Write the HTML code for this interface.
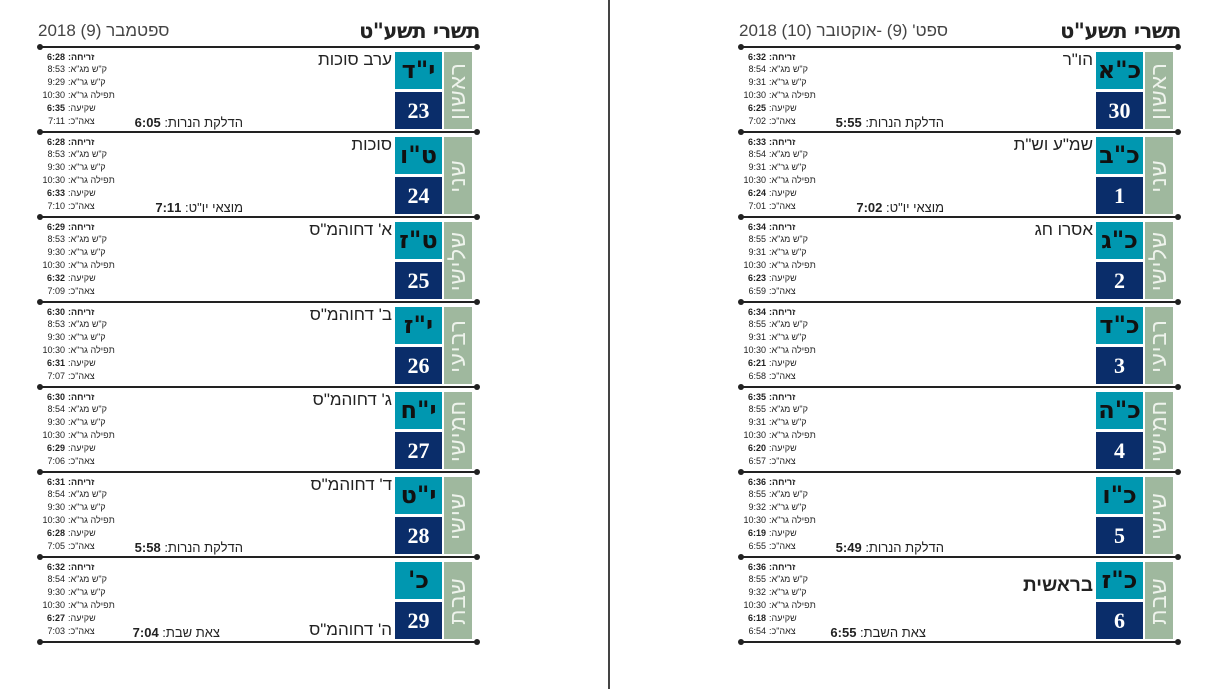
<!DOCTYPE html>
<html><head><meta charset="utf-8">
<style>
*{margin:0;padding:0;box-sizing:border-box}
body{width:1217px;height:689px;background:#fff;position:relative;overflow:hidden;font-family:"Liberation Sans","Noto Sans CJK JP",sans-serif;color:#222}
.pg{position:absolute;top:0;left:0;width:600px;height:689px}
.divider{position:absolute;left:608px;top:0;width:2px;height:689px;background:#444}
.hl{position:absolute;left:40px;width:437px;height:2px;background:#222}
.hl:before,.hl:after{content:"";position:absolute;top:-2px;width:6px;height:6px;border-radius:50%;background:#222}
.hl:before{left:-3px}.hl:after{right:-3px}
.t1{position:absolute;right:120px;top:19px;font-size:21px;font-weight:bold;direction:rtl;font-family:"DejaVu Sans","Liberation Sans",sans-serif;letter-spacing:-0.5px}
.t2{position:absolute;left:38px;top:21px;font-size:17px;color:#444;direction:rtl;font-family:"Liberation Sans","Noto Sans CJK JP",sans-serif}
.row{position:absolute;left:0;width:600px;height:85px}
.g{position:absolute;left:444px;top:5px;width:28px;height:77px;background:#9fb89e}
.g span{position:absolute;left:50%;top:50%;transform:translate(-50%,-50%) rotate(-90deg);color:#eef3ec;font-size:22px;white-space:nowrap;direction:rtl;font-family:"Liberation Sans","Noto Sans CJK JP",sans-serif;letter-spacing:1px}
.tl{position:absolute;left:395px;top:5px;width:47px;height:37px;background:#0097b0;text-align:center;line-height:37px;font-size:24px;font-weight:bold;color:#111;direction:rtl;font-family:"DejaVu Sans","Liberation Sans",sans-serif}
.nv{position:absolute;left:395px;top:45px;width:47px;height:37px;background:#0a2d6a;text-align:center;line-height:38px;font-size:22px;font-weight:bold;color:#fff;font-family:"Liberation Serif",serif}
.hol{position:absolute;right:208px;top:3px;font-size:17px;direction:rtl;white-space:nowrap;color:#222}
.note{position:absolute;right:357px;top:68px;font-size:13px;direction:rtl;white-space:nowrap}
.tm{position:absolute;left:30px;width:100px;height:12px;font-size:9px;line-height:12px}
.tm .v{position:absolute;left:0;width:35px;text-align:right}
.tm .l{position:absolute;left:38px;direction:rtl;white-space:nowrap}
.b{font-weight:bold}
</style></head><body>
<div class="divider"></div>

<!-- LEFT PAGE -->
<div class="pg" style="left:0">
<div class="t1">תשרי תשע"ט</div>
<div class="t2">ספטמבר (9) 2018</div>
<div class="hl" style="top:46px"></div><div class="hl" style="top:131px"></div><div class="hl" style="top:216px"></div><div class="hl" style="top:301px"></div><div class="hl" style="top:386px"></div><div class="hl" style="top:471px"></div><div class="hl" style="top:556px"></div><div class="hl" style="top:641px"></div>

<div class="row" style="top:47px"><div class="g"><span>ראשון</span></div><div class="tl">י"ד</div><div class="nv">23</div><div class="hol">ערב סוכות</div><div class="note">הדלקת הנרות: <b>6:05</b></div>
<div class="tm" style="top:4px"><span class="v b">6:28</span><span class="l b">זריחה:</span></div><div class="tm" style="top:16px"><span class="v">8:53</span><span class="l">ק"ש מג"א:</span></div><div class="tm" style="top:29px"><span class="v">9:29</span><span class="l">ק"ש גר"א:</span></div><div class="tm" style="top:42px"><span class="v">10:30</span><span class="l">תפילה גר"א:</span></div><div class="tm" style="top:55px"><span class="v b">6:35</span><span class="l">שקיעה:</span></div><div class="tm" style="top:68px"><span class="v">7:11</span><span class="l">צאה"כ:</span></div></div>

<div class="row" style="top:132px"><div class="g"><span>שני</span></div><div class="tl">ט"ו</div><div class="nv">24</div><div class="hol">סוכות</div><div class="note">מוצאי יו"ט: <b>7:11</b></div>
<div class="tm" style="top:4px"><span class="v b">6:28</span><span class="l b">זריחה:</span></div><div class="tm" style="top:16px"><span class="v">8:53</span><span class="l">ק"ש מג"א:</span></div><div class="tm" style="top:29px"><span class="v">9:30</span><span class="l">ק"ש גר"א:</span></div><div class="tm" style="top:42px"><span class="v">10:30</span><span class="l">תפילה גר"א:</span></div><div class="tm" style="top:55px"><span class="v b">6:33</span><span class="l">שקיעה:</span></div><div class="tm" style="top:68px"><span class="v">7:10</span><span class="l">צאה"כ:</span></div></div>

<div class="row" style="top:217px"><div class="g"><span>שלישי</span></div><div class="tl">ט"ז</div><div class="nv">25</div><div class="hol">א' דחוהמ"ס</div>
<div class="tm" style="top:4px"><span class="v b">6:29</span><span class="l b">זריחה:</span></div><div class="tm" style="top:16px"><span class="v">8:53</span><span class="l">ק"ש מג"א:</span></div><div class="tm" style="top:29px"><span class="v">9:30</span><span class="l">ק"ש גר"א:</span></div><div class="tm" style="top:42px"><span class="v">10:30</span><span class="l">תפילה גר"א:</span></div><div class="tm" style="top:55px"><span class="v b">6:32</span><span class="l">שקיעה:</span></div><div class="tm" style="top:68px"><span class="v">7:09</span><span class="l">צאה"כ:</span></div></div>

<div class="row" style="top:302px"><div class="g"><span>רביעי</span></div><div class="tl">י"ז</div><div class="nv">26</div><div class="hol">ב' דחוהמ"ס</div>
<div class="tm" style="top:4px"><span class="v b">6:30</span><span class="l b">זריחה:</span></div><div class="tm" style="top:16px"><span class="v">8:53</span><span class="l">ק"ש מג"א:</span></div><div class="tm" style="top:29px"><span class="v">9:30</span><span class="l">ק"ש גר"א:</span></div><div class="tm" style="top:42px"><span class="v">10:30</span><span class="l">תפילה גר"א:</span></div><div class="tm" style="top:55px"><span class="v b">6:31</span><span class="l">שקיעה:</span></div><div class="tm" style="top:68px"><span class="v">7:07</span><span class="l">צאה"כ:</span></div></div>

<div class="row" style="top:387px"><div class="g"><span>חמישי</span></div><div class="tl">י"ח</div><div class="nv">27</div><div class="hol">ג' דחוהמ"ס</div>
<div class="tm" style="top:4px"><span class="v b">6:30</span><span class="l b">זריחה:</span></div><div class="tm" style="top:16px"><span class="v">8:54</span><span class="l">ק"ש מג"א:</span></div><div class="tm" style="top:29px"><span class="v">9:30</span><span class="l">ק"ש גר"א:</span></div><div class="tm" style="top:42px"><span class="v">10:30</span><span class="l">תפילה גר"א:</span></div><div class="tm" style="top:55px"><span class="v b">6:29</span><span class="l">שקיעה:</span></div><div class="tm" style="top:68px"><span class="v">7:06</span><span class="l">צאה"כ:</span></div></div>

<div class="row" style="top:472px"><div class="g"><span>שישי</span></div><div class="tl">י"ט</div><div class="nv">28</div><div class="hol">ד' דחוהמ"ס</div><div class="note">הדלקת הנרות: <b>5:58</b></div>
<div class="tm" style="top:4px"><span class="v b">6:31</span><span class="l b">זריחה:</span></div><div class="tm" style="top:16px"><span class="v">8:54</span><span class="l">ק"ש מג"א:</span></div><div class="tm" style="top:29px"><span class="v">9:30</span><span class="l">ק"ש גר"א:</span></div><div class="tm" style="top:42px"><span class="v">10:30</span><span class="l">תפילה גר"א:</span></div><div class="tm" style="top:55px"><span class="v b">6:28</span><span class="l">שקיעה:</span></div><div class="tm" style="top:68px"><span class="v">7:05</span><span class="l">צאה"כ:</span></div></div>

<div class="row" style="top:557px"><div class="g"><span>שבת</span></div><div class="tl">כ'</div><div class="nv">29</div><div class="hol" style="top:63px">ה' דחוהמ"ס</div><div class="note" style="right:380px">צאת שבת: <b>7:04</b></div>
<div class="tm" style="top:4px"><span class="v b">6:32</span><span class="l b">זריחה:</span></div><div class="tm" style="top:16px"><span class="v">8:54</span><span class="l">ק"ש מג"א:</span></div><div class="tm" style="top:29px"><span class="v">9:30</span><span class="l">ק"ש גר"א:</span></div><div class="tm" style="top:42px"><span class="v">10:30</span><span class="l">תפילה גר"א:</span></div><div class="tm" style="top:55px"><span class="v b">6:27</span><span class="l">שקיעה:</span></div><div class="tm" style="top:68px"><span class="v">7:03</span><span class="l">צאה"כ:</span></div></div>
</div>

<!-- RIGHT PAGE -->
<div class="pg" style="left:701px">
<div class="t1">תשרי תשע"ט</div>
<div class="t2">ספט' (9) -אוקטובר (10) 2018</div>
<div class="hl" style="top:46px"></div><div class="hl" style="top:131px"></div><div class="hl" style="top:216px"></div><div class="hl" style="top:301px"></div><div class="hl" style="top:386px"></div><div class="hl" style="top:471px"></div><div class="hl" style="top:556px"></div><div class="hl" style="top:641px"></div>

<div class="row" style="top:47px"><div class="g"><span>ראשון</span></div><div class="tl">כ"א</div><div class="nv">30</div><div class="hol">הו"ר</div><div class="note">הדלקת הנרות: <b>5:55</b></div>
<div class="tm" style="top:4px"><span class="v b">6:32</span><span class="l b">זריחה:</span></div><div class="tm" style="top:16px"><span class="v">8:54</span><span class="l">ק"ש מג"א:</span></div><div class="tm" style="top:29px"><span class="v">9:31</span><span class="l">ק"ש גר"א:</span></div><div class="tm" style="top:42px"><span class="v">10:30</span><span class="l">תפילה גר"א:</span></div><div class="tm" style="top:55px"><span class="v b">6:25</span><span class="l">שקיעה:</span></div><div class="tm" style="top:68px"><span class="v">7:02</span><span class="l">צאה"כ:</span></div></div>

<div class="row" style="top:132px"><div class="g"><span>שני</span></div><div class="tl">כ"ב</div><div class="nv">1</div><div class="hol">שמ"ע וש"ת</div><div class="note">מוצאי יו"ט: <b>7:02</b></div>
<div class="tm" style="top:4px"><span class="v b">6:33</span><span class="l b">זריחה:</span></div><div class="tm" style="top:16px"><span class="v">8:54</span><span class="l">ק"ש מג"א:</span></div><div class="tm" style="top:29px"><span class="v">9:31</span><span class="l">ק"ש גר"א:</span></div><div class="tm" style="top:42px"><span class="v">10:30</span><span class="l">תפילה גר"א:</span></div><div class="tm" style="top:55px"><span class="v b">6:24</span><span class="l">שקיעה:</span></div><div class="tm" style="top:68px"><span class="v">7:01</span><span class="l">צאה"כ:</span></div></div>

<div class="row" style="top:217px"><div class="g"><span>שלישי</span></div><div class="tl">כ"ג</div><div class="nv">2</div><div class="hol">אסרו חג</div>
<div class="tm" style="top:4px"><span class="v b">6:34</span><span class="l b">זריחה:</span></div><div class="tm" style="top:16px"><span class="v">8:55</span><span class="l">ק"ש מג"א:</span></div><div class="tm" style="top:29px"><span class="v">9:31</span><span class="l">ק"ש גר"א:</span></div><div class="tm" style="top:42px"><span class="v">10:30</span><span class="l">תפילה גר"א:</span></div><div class="tm" style="top:55px"><span class="v b">6:23</span><span class="l">שקיעה:</span></div><div class="tm" style="top:68px"><span class="v">6:59</span><span class="l">צאה"כ:</span></div></div>

<div class="row" style="top:302px"><div class="g"><span>רביעי</span></div><div class="tl">כ"ד</div><div class="nv">3</div>
<div class="tm" style="top:4px"><span class="v b">6:34</span><span class="l b">זריחה:</span></div><div class="tm" style="top:16px"><span class="v">8:55</span><span class="l">ק"ש מג"א:</span></div><div class="tm" style="top:29px"><span class="v">9:31</span><span class="l">ק"ש גר"א:</span></div><div class="tm" style="top:42px"><span class="v">10:30</span><span class="l">תפילה גר"א:</span></div><div class="tm" style="top:55px"><span class="v b">6:21</span><span class="l">שקיעה:</span></div><div class="tm" style="top:68px"><span class="v">6:58</span><span class="l">צאה"כ:</span></div></div>

<div class="row" style="top:387px"><div class="g"><span>חמישי</span></div><div class="tl">כ"ה</div><div class="nv">4</div>
<div class="tm" style="top:4px"><span class="v b">6:35</span><span class="l b">זריחה:</span></div><div class="tm" style="top:16px"><span class="v">8:55</span><span class="l">ק"ש מג"א:</span></div><div class="tm" style="top:29px"><span class="v">9:31</span><span class="l">ק"ש גר"א:</span></div><div class="tm" style="top:42px"><span class="v">10:30</span><span class="l">תפילה גר"א:</span></div><div class="tm" style="top:55px"><span class="v b">6:20</span><span class="l">שקיעה:</span></div><div class="tm" style="top:68px"><span class="v">6:57</span><span class="l">צאה"כ:</span></div></div>

<div class="row" style="top:472px"><div class="g"><span>שישי</span></div><div class="tl">כ"ו</div><div class="nv">5</div><div class="note">הדלקת הנרות: <b>5:49</b></div>
<div class="tm" style="top:4px"><span class="v b">6:36</span><span class="l b">זריחה:</span></div><div class="tm" style="top:16px"><span class="v">8:55</span><span class="l">ק"ש מג"א:</span></div><div class="tm" style="top:29px"><span class="v">9:32</span><span class="l">ק"ש גר"א:</span></div><div class="tm" style="top:42px"><span class="v">10:30</span><span class="l">תפילה גר"א:</span></div><div class="tm" style="top:55px"><span class="v b">6:19</span><span class="l">שקיעה:</span></div><div class="tm" style="top:68px"><span class="v">6:55</span><span class="l">צאה"כ:</span></div></div>

<div class="row" style="top:557px"><div class="g"><span>שבת</span></div><div class="tl">כ"ז</div><div class="nv">6</div><div class="hol" style="top:18px;font-weight:bold;font-size:19px">בראשית</div><div class="note" style="right:375px">צאת השבת: <b>6:55</b></div>
<div class="tm" style="top:4px"><span class="v b">6:36</span><span class="l b">זריחה:</span></div><div class="tm" style="top:16px"><span class="v">8:55</span><span class="l">ק"ש מג"א:</span></div><div class="tm" style="top:29px"><span class="v">9:32</span><span class="l">ק"ש גר"א:</span></div><div class="tm" style="top:42px"><span class="v">10:30</span><span class="l">תפילה גר"א:</span></div><div class="tm" style="top:55px"><span class="v b">6:18</span><span class="l">שקיעה:</span></div><div class="tm" style="top:68px"><span class="v">6:54</span><span class="l">צאה"כ:</span></div></div>
</div>
</body></html>
